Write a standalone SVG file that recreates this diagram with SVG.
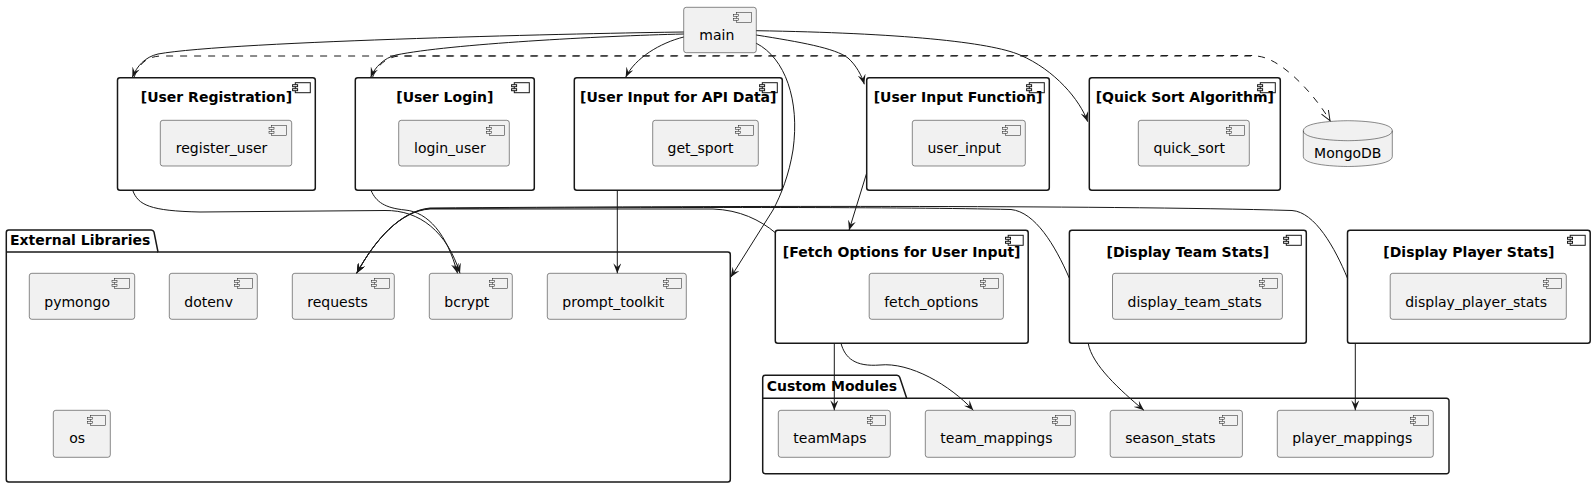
<svg xmlns="http://www.w3.org/2000/svg" width="1595" height="487" viewBox="0 0 1595 487">
<style>
.outer{fill:#FFFFFF;stroke:#181818;stroke-width:1.5}
.comp{fill:#F1F1F1;stroke:#181818;stroke-width:0.5}
.pkg{fill:#FFFFFF;stroke:#181818;stroke-width:1.5}
.ico{fill:#F1F1F1;stroke:#181818;stroke-width:0.5}
.icoB{fill:#FFFFFF;stroke:#181818;stroke-width:1}
.t{font-family:"DejaVu Sans",sans-serif;font-size:14px;fill:#000000}
.tb{font-family:"DejaVu Sans",sans-serif;font-size:14px;font-weight:bold;fill:#000000}
.e{fill:none;stroke:#181818;stroke-width:1}
.d{fill:none;stroke:#181818;stroke-width:1;stroke-dasharray:7,7}
</style>
<defs>
<marker id="ah" markerUnits="userSpaceOnUse" viewBox="0 0 10 8" markerWidth="10" markerHeight="8" refX="10" refY="4" orient="auto">
<path d="M0,0 L10,4 L0,8 L4,4 Z" fill="#181818"/>
</marker>
<marker id="ao" markerUnits="userSpaceOnUse" viewBox="0 0 12 10" markerWidth="12" markerHeight="10" refX="11" refY="5" orient="auto">
<path d="M1,1 L11,5 L1,9" fill="none" stroke="#181818" stroke-width="1"/>
</marker>
</defs>

<g id="pkg-external">
<path class="pkg" d="M8.8,230 L151,230 A3,3 0 0 1 154,232 L158,252 L727.8,252 A2.5,2.5 0 0 1 730.3,254.5 L730.3,479.5 A2.5,2.5 0 0 1 727.8,482 L8.8,482 A2.5,2.5 0 0 1 6.3,479.5 L6.3,232.5 A2.5,2.5 0 0 1 8.8,230 Z"/>
<line x1="6.3" y1="252" x2="158" y2="252" stroke="#181818" stroke-width="1.5"/>
<text class="tb" x="10" y="245">External Libraries</text>
</g>

<g id="pkg-custom">
<path class="pkg" d="M765.2,375.3 L896.7,375.3 A3,3 0 0 1 899.7,377.3 L906.7,398.3 L1446.5,398.3 A2.5,2.5 0 0 1 1449,400.8 L1449,471.2 A2.5,2.5 0 0 1 1446.5,473.7 L765.2,473.7 A2.5,2.5 0 0 1 762.7,471.2 L762.7,377.8 A2.5,2.5 0 0 1 765.2,375.3 Z"/>
<line x1="762.7" y1="398.3" x2="906.7" y2="398.3" stroke="#181818" stroke-width="1.5"/>
<text class="tb" x="766.7" y="390.7">Custom Modules</text>
</g>

<g id="main">
<rect class="comp" x="683.7" y="7.3" width="72.6" height="45.4" rx="2.5"/>
<rect class="ico" x="736.3" y="12.3" width="15" height="10"/><rect class="ico" x="733.6" y="14.3" width="5" height="2"/><rect class="ico" x="733.6" y="18.3" width="5" height="2"/>
<text class="t" x="699.3" y="40">main</text>
</g>

<g id="user-registration">
<rect class="outer" x="117.5" y="77.7" width="197.8" height="112.6" rx="2.5"/>
<rect class="icoB" x="295.3" y="82.7" width="15" height="10"/><rect class="icoB" x="292.6" y="84.7" width="5" height="2"/><rect class="icoB" x="292.6" y="88.7" width="5" height="2"/>
<text class="tb" x="216.4" y="102.3" text-anchor="middle">[User Registration]</text>
<g id="register_user">
<rect class="comp" x="160.3" y="120.3" width="131.4" height="45.7" rx="2.5"/>
<rect class="ico" x="271.7" y="125.3" width="15" height="10"/><rect class="ico" x="269" y="127.3" width="5" height="2"/><rect class="ico" x="269" y="131.3" width="5" height="2"/>
<text class="t" x="175.8" y="153.3">register_user</text>
</g>
</g>

<g id="user-login">
<rect class="outer" x="355.3" y="77.7" width="179" height="112.6" rx="2.5"/>
<rect class="icoB" x="514.3" y="82.7" width="15" height="10"/><rect class="icoB" x="511.6" y="84.7" width="5" height="2"/><rect class="icoB" x="511.6" y="88.7" width="5" height="2"/>
<text class="tb" x="444.8" y="102.3" text-anchor="middle">[User Login]</text>
<g id="login_user">
<rect class="comp" x="398.7" y="120.3" width="110.6" height="45.7" rx="2.5"/>
<rect class="ico" x="489.3" y="125.3" width="15" height="10"/><rect class="ico" x="486.6" y="127.3" width="5" height="2"/><rect class="ico" x="486.6" y="131.3" width="5" height="2"/>
<text class="t" x="414" y="153.3">login_user</text>
</g>
</g>

<g id="user-input-api">
<rect class="outer" x="574.3" y="77.7" width="208" height="112.6" rx="2.5"/>
<rect class="icoB" x="762.3" y="82.7" width="15" height="10"/><rect class="icoB" x="759.6" y="84.7" width="5" height="2"/><rect class="icoB" x="759.6" y="88.7" width="5" height="2"/>
<text class="tb" x="678.3" y="102.3" text-anchor="middle">[User Input for API Data]</text>
<g id="get_sport">
<rect class="comp" x="652.7" y="120.3" width="105.6" height="45.7" rx="2.5"/>
<rect class="ico" x="738.3" y="125.3" width="15" height="10"/><rect class="ico" x="735.6" y="127.3" width="5" height="2"/><rect class="ico" x="735.6" y="131.3" width="5" height="2"/>
<text class="t" x="667.5" y="153.3">get_sport</text>
</g>
</g>

<g id="user-input-function">
<rect class="outer" x="866.7" y="77.7" width="182.6" height="112.6" rx="2.5"/>
<rect class="icoB" x="1029.3" y="82.7" width="15" height="10"/><rect class="icoB" x="1026.6" y="84.7" width="5" height="2"/><rect class="icoB" x="1026.6" y="88.7" width="5" height="2"/>
<text class="tb" x="958" y="102.3" text-anchor="middle">[User Input Function]</text>
<g id="user_input">
<rect class="comp" x="912.3" y="120.3" width="113" height="45.7" rx="2.5"/>
<rect class="ico" x="1005.3" y="125.3" width="15" height="10"/><rect class="ico" x="1002.6" y="127.3" width="5" height="2"/><rect class="ico" x="1002.6" y="131.3" width="5" height="2"/>
<text class="t" x="927.5" y="153.3">user_input</text>
</g>
</g>

<g id="quick-sort-algorithm">
<rect class="outer" x="1089.3" y="77.7" width="191" height="112.6" rx="2.5"/>
<rect class="icoB" x="1260.3" y="82.7" width="15" height="10"/><rect class="icoB" x="1257.6" y="84.7" width="5" height="2"/><rect class="icoB" x="1257.6" y="88.7" width="5" height="2"/>
<text class="tb" x="1184.8" y="102.3" text-anchor="middle">[Quick Sort Algorithm]</text>
<g id="quick_sort">
<rect class="comp" x="1138.3" y="120.3" width="111" height="45.7" rx="2.5"/>
<rect class="ico" x="1229.3" y="125.3" width="15" height="10"/><rect class="ico" x="1226.6" y="127.3" width="5" height="2"/><rect class="ico" x="1226.6" y="131.3" width="5" height="2"/>
<text class="t" x="1153.5" y="153.3">quick_sort</text>
</g>
</g>

<g id="mongodb">
<path class="comp" d="M1303.3,130.7 C1303.3,120.7 1347.8,120.7 1347.8,120.7 C1347.8,120.7 1392.3,120.7 1392.3,130.7 L1392.3,156.5 C1392.3,166.5 1347.8,166.5 1347.8,166.5 C1347.8,166.5 1303.3,166.5 1303.3,156.5 Z"/>
<path d="M1303.3,130.7 C1303.3,140.7 1347.8,140.7 1347.8,140.7 C1347.8,140.7 1392.3,140.7 1392.3,130.7" fill="none" stroke="#181818" stroke-width="0.5"/>
<text class="t" x="1347.8" y="158.3" text-anchor="middle">MongoDB</text>
</g>

<g id="fetch-options">
<rect class="outer" x="775.3" y="230.3" width="252.9" height="113" rx="2.5"/>
<rect class="icoB" x="1008.2" y="235.3" width="15" height="10"/><rect class="icoB" x="1005.5" y="237.3" width="5" height="2"/><rect class="icoB" x="1005.5" y="241.3" width="5" height="2"/>
<text class="tb" x="901.7" y="256.7" text-anchor="middle">[Fetch Options for User Input]</text>
<g id="fetch_options">
<rect class="comp" x="869.2" y="273.3" width="134.2" height="46" rx="2.5"/>
<rect class="ico" x="983.4" y="278.3" width="15" height="10"/><rect class="ico" x="980.7" y="280.3" width="5" height="2"/><rect class="ico" x="980.7" y="284.3" width="5" height="2"/>
<text class="t" x="884.2" y="306.7">fetch_options</text>
</g>
</g>

<g id="display-team-stats">
<rect class="outer" x="1069.4" y="230.3" width="236.9" height="113" rx="2.5"/>
<rect class="icoB" x="1286.3" y="235.3" width="15" height="10"/><rect class="icoB" x="1283.6" y="237.3" width="5" height="2"/><rect class="icoB" x="1283.6" y="241.3" width="5" height="2"/>
<text class="tb" x="1187.9" y="256.7" text-anchor="middle">[Display Team Stats]</text>
<g id="display_team_stats">
<rect class="comp" x="1112.5" y="273.3" width="169.9" height="46" rx="2.5"/>
<rect class="ico" x="1262.4" y="278.3" width="15" height="10"/><rect class="ico" x="1259.7" y="280.3" width="5" height="2"/><rect class="ico" x="1259.7" y="284.3" width="5" height="2"/>
<text class="t" x="1127.5" y="306.7">display_team_stats</text>
</g>
</g>

<g id="display-player-stats">
<rect class="outer" x="1347.5" y="230.3" width="242.7" height="113" rx="2.5"/>
<rect class="icoB" x="1570.2" y="235.3" width="15" height="10"/><rect class="icoB" x="1567.5" y="237.3" width="5" height="2"/><rect class="icoB" x="1567.5" y="241.3" width="5" height="2"/>
<text class="tb" x="1468.9" y="256.7" text-anchor="middle">[Display Player Stats]</text>
<g id="display_player_stats">
<rect class="comp" x="1390.2" y="273.3" width="176.1" height="46" rx="2.5"/>
<rect class="ico" x="1546.3" y="278.3" width="15" height="10"/><rect class="ico" x="1543.6" y="280.3" width="5" height="2"/><rect class="ico" x="1543.6" y="284.3" width="5" height="2"/>
<text class="t" x="1405.2" y="306.7">display_player_stats</text>
</g>
</g>

<g id="pymongo">
<rect class="comp" x="29.3" y="273.3" width="105.4" height="46" rx="2.5"/>
<rect class="ico" x="114.7" y="278.3" width="15" height="10"/><rect class="ico" x="112" y="280.3" width="5" height="2"/><rect class="ico" x="112" y="284.3" width="5" height="2"/>
<text class="t" x="44.3" y="306.7">pymongo</text>
</g>
<g id="dotenv">
<rect class="comp" x="169.3" y="273.3" width="88" height="46" rx="2.5"/>
<rect class="ico" x="237.3" y="278.3" width="15" height="10"/><rect class="ico" x="234.6" y="280.3" width="5" height="2"/><rect class="ico" x="234.6" y="284.3" width="5" height="2"/>
<text class="t" x="184.3" y="306.7">dotenv</text>
</g>
<g id="requests">
<rect class="comp" x="292.3" y="273.3" width="102" height="46" rx="2.5"/>
<rect class="ico" x="374.3" y="278.3" width="15" height="10"/><rect class="ico" x="371.6" y="280.3" width="5" height="2"/><rect class="ico" x="371.6" y="284.3" width="5" height="2"/>
<text class="t" x="307.3" y="306.7">requests</text>
</g>
<g id="bcrypt">
<rect class="comp" x="429.3" y="273.3" width="83" height="46" rx="2.5"/>
<rect class="ico" x="492.3" y="278.3" width="15" height="10"/><rect class="ico" x="489.6" y="280.3" width="5" height="2"/><rect class="ico" x="489.6" y="284.3" width="5" height="2"/>
<text class="t" x="444.3" y="306.7">bcrypt</text>
</g>
<g id="prompt_toolkit">
<rect class="comp" x="547.3" y="273.3" width="139" height="46" rx="2.5"/>
<rect class="ico" x="666.3" y="278.3" width="15" height="10"/><rect class="ico" x="663.6" y="280.3" width="5" height="2"/><rect class="ico" x="663.6" y="284.3" width="5" height="2"/>
<text class="t" x="562.3" y="306.7">prompt_toolkit</text>
</g>
<g id="os">
<rect class="comp" x="53.3" y="410.3" width="57" height="47" rx="2.5"/>
<rect class="ico" x="90.3" y="415.3" width="15" height="10"/><rect class="ico" x="87.6" y="417.3" width="5" height="2"/><rect class="ico" x="87.6" y="421.3" width="5" height="2"/>
<text class="t" x="69.3" y="443.3">os</text>
</g>

<g id="teamMaps">
<rect class="comp" x="778.3" y="410.3" width="112" height="47" rx="2.5"/>
<rect class="ico" x="870.3" y="415.3" width="15" height="10"/><rect class="ico" x="867.6" y="417.3" width="5" height="2"/><rect class="ico" x="867.6" y="421.3" width="5" height="2"/>
<text class="t" x="793.3" y="443.3">teamMaps</text>
</g>
<g id="team_mappings">
<rect class="comp" x="925.3" y="410.3" width="150" height="47" rx="2.5"/>
<rect class="ico" x="1055.3" y="415.3" width="15" height="10"/><rect class="ico" x="1052.6" y="417.3" width="5" height="2"/><rect class="ico" x="1052.6" y="421.3" width="5" height="2"/>
<text class="t" x="940.3" y="443.3">team_mappings</text>
</g>
<g id="season_stats">
<rect class="comp" x="1110.2" y="410.3" width="132.2" height="47" rx="2.5"/>
<rect class="ico" x="1222.4" y="415.3" width="15" height="10"/><rect class="ico" x="1219.7" y="417.3" width="5" height="2"/><rect class="ico" x="1219.7" y="421.3" width="5" height="2"/>
<text class="t" x="1125.2" y="443.3">season_stats</text>
</g>
<g id="player_mappings">
<rect class="comp" x="1277.3" y="410.3" width="156" height="47" rx="2.5"/>
<rect class="ico" x="1413.3" y="415.3" width="15" height="10"/><rect class="ico" x="1410.6" y="417.3" width="5" height="2"/><rect class="ico" x="1410.6" y="421.3" width="5" height="2"/>
<text class="t" x="1292.3" y="443.3">player_mappings</text>
</g>

<g id="connectors">
<path class="e" marker-end="url(#ah)" d="M683.7,32 C600,33 230,41 158,54 C145,57 137,66 132.3,77.3"/>
<path class="e" marker-end="url(#ah)" d="M683.7,34 C600,36 450,44 396,55 C384,58 375,67 370.7,77.3"/>
<path class="e" marker-end="url(#ah)" d="M683.7,37 C660,43 635,58 625.7,77.3"/>
<path class="e" marker-end="url(#ah)" d="M756.3,35 C800,42 835,48 848,58 C856,65 862,76 864.3,84.3"/>
<path class="e" marker-end="url(#ah)" d="M756.3,30.7 C900,33 990,42 1020,55 C1055,70 1080,100 1087.7,121.7"/>
<path class="e" marker-end="url(#ah)" d="M756.3,43.3 C785,58 800,100 793,150 C789,175 781,195 773,210 L730.7,277.3"/>
<path class="d" marker-end="url(#ao)" d="M134,77.3 C139,64 146,57 160,56 L1255,56 C1280,56 1315,95 1330,120.7"/>
<path class="d" d="M372.5,77.3 C377,66 385,58 398,56 L1255,55.5"/>
<path class="e" marker-end="url(#ah)" d="M132.7,190.3 C138,205 150,211 200,212 L385,210.5 C420,210 447,232 460,273.3"/>
<path class="e" marker-end="url(#ah)" d="M371,190.3 C376,202 385,208 405,210 C428,212 447,234 457.5,273.3"/>
<path class="e" marker-end="url(#ah)" d="M617.3,190.3 L617.3,273.3"/>
<path class="e" marker-end="url(#ah)" d="M866.7,173 L849,230.3"/>
<path class="e" marker-end="url(#ah)" d="M775.3,232.7 C760,220 740,210 713,209 L430,209 C400,211 375,240 356.7,273.3"/>
<path class="e" marker-end="url(#ah)" d="M1069.4,278.3 C1055,245 1035,212 1011,209.5 C900,207 700,207 430,208.5 C400,211 375,240 356.7,273.3"/>
<path class="e" marker-end="url(#ah)" d="M1347.5,278.3 C1335,248 1315,212 1292,210.5 C1100,205 700,206 430,208 C400,211 375,240 356.7,273.3"/>
<path class="e" marker-end="url(#ah)" d="M834.3,343.3 L834.3,410.3"/>
<path class="e" marker-end="url(#ah)" d="M841,343.3 C845,358 855,367 880,365 C910,362 950,385 973.3,410.3"/>
<path class="e" marker-end="url(#ah)" d="M1088.2,343.3 C1092,365 1120,390 1143.9,410.3"/>
<path class="e" marker-end="url(#ah)" d="M1355.3,343.3 L1355.3,410.3"/>
</g>
</svg>
